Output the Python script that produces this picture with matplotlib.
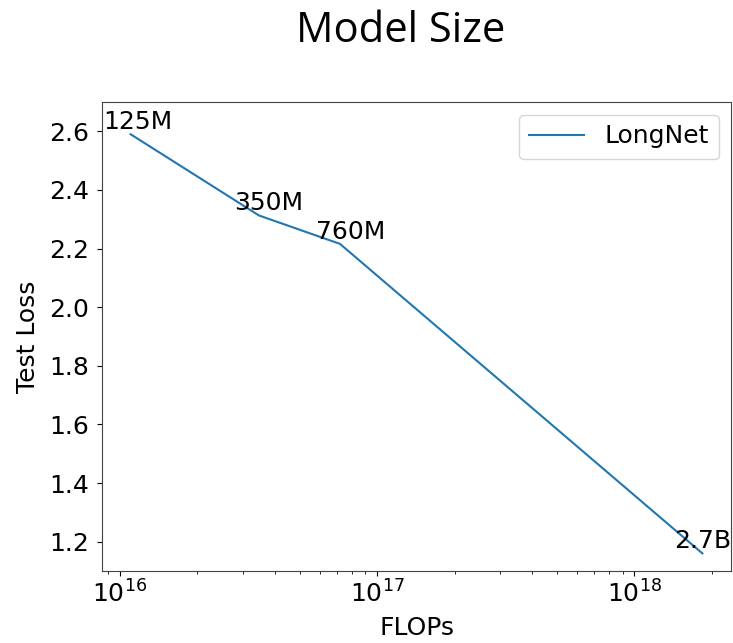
import matplotlib
matplotlib.use("Agg")
import matplotlib.pyplot as plt

flops = [1.1e16, 3.47e16, 7.17e16, 1.84e18]
test_loss = [2.59, 2.313, 2.216, 1.16]
size_labels = ["125M", "350M", "760M", "2.7B"]
series_name = "LongNet"

# horizontal label nudges (points)
label_dx = [5, 7, 8, 0]

FS = 18
plt.rcParams['font.family'] = ['DejaVu Sans']
fig = plt.figure(figsize=(7.33, 6.43), dpi=100)
ax = fig.add_axes([102/733, 1-571/643, (731-102)/733, (571-102)/643])

ax.plot(flops, test_loss, color='#1f77b4', lw=1.5, label=series_name)
for x, y, t, dx in zip(flops, test_loss, size_labels, label_dx):
    ax.annotate(t, (x, y), xytext=(dx, 0), textcoords='offset points',
                ha='center', va='bottom', fontsize=FS, annotation_clip=False)

ax.set_xscale('log')
ax.set_ylim(1.1, 2.7)
ax.set_yticks([1.2, 1.4, 1.6, 1.8, 2.0, 2.2, 2.4, 2.6])
ax.tick_params(labelsize=FS)
ax.tick_params(axis='y', pad=6)
ax.set_xlabel("FLOPs", fontsize=FS, labelpad=6)
ax.set_ylabel("Test Loss", fontsize=FS, labelpad=6)
ax.legend(loc='upper right', fontsize=FS, borderaxespad=0.5, handlelength=2.2)
for s in ax.spines.values():
    s.set_color('#444444')

fig.text(401/733, 1-42/643, "Model Size", ha='center', va='baseline',
         fontsize=30, family='Open Sans')

fig.savefig("out.png", dpi=100)
